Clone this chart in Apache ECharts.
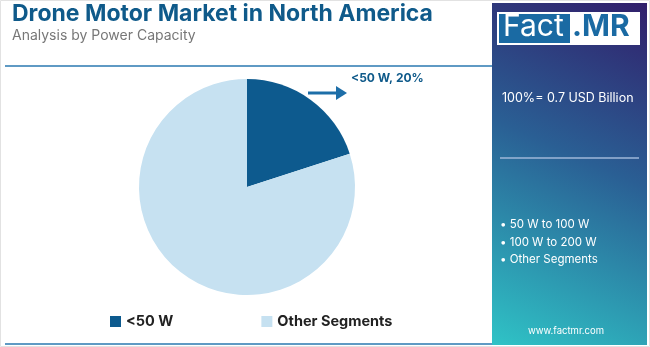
<!DOCTYPE html>
<html><head><meta charset="utf-8">
<script src="https://cdn.jsdelivr.net/npm/echarts@6/dist/echarts.min.js"></script>
<style>html,body{margin:0;padding:0;background:#fff}#c{width:650px;height:347px}</style>
</head><body><div id="c"></div>
<script>
const categories = ['<50 W', 'Other Segments'];
const values = [20, 80];
const totalText = '100%= 0.7 USD Billion';
const sideList = ['• 50 W to 100 W', '• 100 W to 200 W', '• Other Segments'];
const colors = ['#0d5a8e', '#c6e1f1'];

const chart = echarts.init(document.getElementById('c'));
const F = 'Inter, "Open Sans", sans-serif';
chart.setOption({
  animation: false,
  color: colors,
  legend: {
    data: categories, bottom: 13, left: 105, itemGap: 88,
    icon: 'rect', itemWidth: 11, itemHeight: 11,
    textStyle: {fontFamily: F, fontWeight: 'bold', fontSize: 14.5, color: '#222'}
  },
  series: [{
    type: 'pie', center: [247, 187], radius: [0, 108], startAngle: 90, clockwise: true,
    label: {show: false}, labelLine: {show: false},
    data: categories.map((c, i) => ({name: c, value: values[i]}))
  }],
  graphic: [
    {type: 'rect', shape: {x: 0.5, y: 0.5, width: 649, height: 346}, style: {fill: 'none', stroke: '#e2e2e2', lineWidth: 1}},
    {type: 'text', left: 12, top: 3, style: {text: 'Drone Motor Market in North America', font: 'bold 23px ' + F, fill: '#0f5a8a'}},
    {type: 'text', left: 12, top: 29, style: {text: 'Analysis by Power Capacity', font: '14px ' + F, fill: '#777'}},
    {type: 'line', shape: {x1: 5, y1: 66, x2: 492, y2: 66}, style: {stroke: '#2a78b0', lineWidth: 1.5}},
    {type: 'line', shape: {x1: 5, y1: 344, x2: 492, y2: 344}, style: {stroke: '#2a78b0', lineWidth: 1.5}},
    {type: 'rect', shape: {x: 492, y: 3, width: 155, height: 342},
     style: {fill: new echarts.graphic.LinearGradient(1, 0, 0, 1, [
       {offset: 0, color: '#311f6b'}, {offset: 0.45, color: '#2a5f94'}, {offset: 1, color: '#2fc3c6'}])}},
    {type: 'rect', shape: {x: 497, y: 12, width: 143, height: 33}, style: {fill: '#fff'}},
    {type: 'rect', shape: {x: 499, y: 14, width: 71, height: 29}, style: {fill: '#1a6aa3'}},
    {type: 'text', x: 503, y: 12, style: {text: 'Fact', font: '30px ' + F, fill: '#fff'}},
    {type: 'text', x: 572, y: 12, style: {text: '.MR', font: 'bold 30px ' + F, fill: '#1a6aa3'}},
    {type: 'text', x: 502, y: 92, style: {text: totalText, font: '12.5px ' + F, fill: '#fff'}},
    {type: 'line', shape: {x1: 500, y1: 158, x2: 639, y2: 158}, style: {stroke: '#9fb7d8', lineWidth: 1.5}},
    {type: 'text', x: 500, y: 216, style: {text: sideList.join('\n'), font: '11.5px ' + F, fill: '#fff', lineHeight: 17.5}},
    {type: 'text', x: 566, y: 326, style: {text: 'www.factmr.com', font: '9.5px ' + F, fill: '#fff', align: 'center'}},
    {type: 'line', shape: {x1: 308, y1: 93, x2: 338, y2: 93}, style: {stroke: '#1d6ea8', lineWidth: 3}},
    {type: 'polygon', shape: {points: [[336, 86], [347, 93], [336, 100]]}, style: {fill: '#1d6ea8'}},
    {type: 'text', x: 351, y: 72, style: {text: categories[0] + ', ' + values[0] + '%', font: 'bold 12px ' + F, fill: '#0f5a8a'}}
  ]
});
</script></body></html>
